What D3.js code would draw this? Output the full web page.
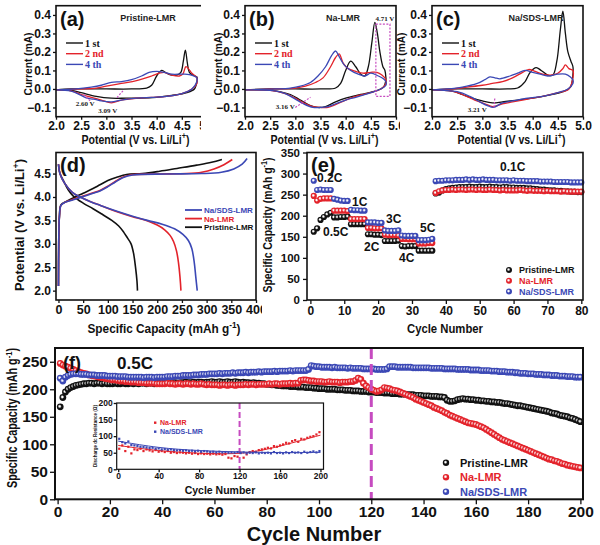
<!DOCTYPE html>
<html><head><meta charset="utf-8">
<script src="https://cdn.jsdelivr.net/npm/d3@7"></script>
<style>
body{margin:0;background:#fff}
svg{display:block}
text{font-family:"Liberation Sans",Arial,sans-serif;font-weight:bold}
.serif{font-family:"Liberation Serif","Times New Roman",serif}
</style></head><body>
<svg id="c" width="600" height="545"></svg>
<script>
// ---------------- DATA ----------------
const seriesNames = ["Pristine-LMR", "Na-LMR", "Na/SDS-LMR"];
const cycleNames = ["1 st", "2 nd", "4 th"];
const cvXTicks = [2.0, 2.5, 3.0, 3.5, 4.0, 4.5, 5.0];
const cvYTicks = [-0.1, 0.0, 0.1, 0.2, 0.3, 0.4];

// CV panel (a) Pristine-LMR: [V, mA] around loop
const cvA1 = [[2.0,-0.005],[2.3,0.0],[2.6,0.0],[3.0,0.0],[3.5,0.0],[3.8,0.005],[3.9,0.02],[4.0,0.07],[4.1,0.10],[4.2,0.085],[4.3,0.075],[4.4,0.075],[4.48,0.09],[4.53,0.15],[4.57,0.21],[4.61,0.14],[4.65,0.09],[4.72,0.075],[4.8,0.065],[4.8,0.04],[4.75,0.0],[4.6,-0.02],[4.3,-0.035],[4.0,-0.045],[3.7,-0.05],[3.4,-0.05],[3.1,-0.05],[2.8,-0.04],[2.5,-0.02],[2.3,-0.008],[2.0,-0.005]];
const cvA2 = [[2.0,-0.005],[2.5,0.0],[2.8,0.005],[3.0,0.015],[3.3,0.03],[3.6,0.045],[3.9,0.07],[4.05,0.085],[4.15,0.09],[4.3,0.075],[4.45,0.07],[4.52,0.08],[4.58,0.12],[4.63,0.11],[4.7,0.085],[4.8,0.06],[4.8,0.03],[4.7,0.0],[4.5,-0.025],[4.2,-0.04],[3.9,-0.045],[3.6,-0.05],[3.3,-0.06],[3.1,-0.075],[2.9,-0.06],[2.7,-0.045],[2.5,-0.03],[2.3,-0.01],[2.0,-0.005]];
const cvA4 = [[2.0,-0.005],[2.4,0.0],[2.7,0.01],[2.9,0.02],[3.1,0.035],[3.3,0.04],[3.5,0.05],[3.7,0.07],[3.85,0.09],[4.0,0.095],[4.15,0.09],[4.3,0.08],[4.5,0.08],[4.65,0.078],[4.8,0.06],[4.8,0.04],[4.7,0.0],[4.5,-0.025],[4.2,-0.04],[3.9,-0.045],[3.6,-0.05],[3.3,-0.06],[3.1,-0.07],[2.9,-0.065],[2.75,-0.055],[2.62,-0.05],[2.5,-0.035],[2.3,-0.012],[2.0,-0.005]];
// CV panel (b) Na-LMR
const cvB1 = [[2.0,-0.005],[2.5,0.0],[3.0,0.0],[3.5,0.0],[3.8,0.005],[3.9,0.03],[4.0,0.1],[4.1,0.15],[4.2,0.12],[4.3,0.08],[4.38,0.07],[4.45,0.12],[4.52,0.25],[4.58,0.36],[4.63,0.3],[4.68,0.2],[4.74,0.12],[4.78,0.1],[4.8,0.06],[4.8,0.05],[4.75,0.01],[4.6,-0.01],[4.3,-0.03],[4.0,-0.05],[3.8,-0.07],[3.6,-0.095],[3.45,-0.1],[3.3,-0.09],[3.1,-0.06],[2.9,-0.03],[2.6,-0.01],[2.3,-0.005],[2.0,-0.005]];
const cvB2 = [[2.0,-0.005],[2.6,0.0],[3.0,0.005],[3.2,0.015],[3.4,0.035],[3.55,0.06],[3.7,0.12],[3.8,0.17],[3.87,0.19],[3.95,0.14],[4.05,0.11],[4.2,0.095],[4.35,0.085],[4.5,0.09],[4.62,0.09],[4.72,0.075],[4.8,0.05],[4.8,0.03],[4.7,0.0],[4.5,-0.02],[4.2,-0.04],[4.0,-0.06],[3.8,-0.085],[3.65,-0.1],[3.5,-0.1],[3.35,-0.095],[3.16,-0.075],[3.0,-0.05],[2.8,-0.025],[2.5,-0.008],[2.0,-0.005]];
const cvB4 = [[2.0,-0.005],[2.6,0.0],[2.9,0.005],[3.1,0.015],[3.3,0.035],[3.45,0.07],[3.6,0.12],[3.72,0.18],[3.8,0.205],[3.88,0.17],[3.97,0.13],[4.1,0.1],[4.25,0.08],[4.38,0.07],[4.5,0.085],[4.65,0.07],[4.75,0.055],[4.8,0.04],[4.8,0.02],[4.7,0.0],[4.5,-0.02],[4.2,-0.045],[4.0,-0.06],[3.8,-0.08],[3.65,-0.095],[3.5,-0.1],[3.35,-0.1],[3.16,-0.08],[3.0,-0.055],[2.8,-0.025],[2.5,-0.008],[2.0,-0.005]];
// CV panel (c) Na/SDS-LMR
const cvC1 = [[2.0,-0.005],[2.5,0.0],[3.0,0.0],[3.5,0.0],[3.7,0.005],[3.85,0.04],[3.95,0.09],[4.07,0.115],[4.17,0.1],[4.3,0.075],[4.4,0.075],[4.48,0.15],[4.55,0.32],[4.6,0.42],[4.65,0.3],[4.7,0.2],[4.76,0.15],[4.8,0.12],[4.8,0.08],[4.75,0.01],[4.6,-0.015],[4.3,-0.035],[4.0,-0.05],[3.7,-0.06],[3.4,-0.07],[3.2,-0.075],[3.0,-0.065],[2.8,-0.05],[2.6,-0.03],[2.4,-0.012],[2.0,-0.005]];
const cvC2 = [[2.0,-0.005],[2.4,0.0],[2.7,0.01],[3.0,0.02],[3.2,0.03],[3.4,0.04],[3.6,0.06],[3.8,0.09],[3.92,0.105],[4.05,0.095],[4.2,0.08],[4.35,0.075],[4.5,0.085],[4.6,0.11],[4.65,0.13],[4.72,0.11],[4.8,0.1],[4.8,0.06],[4.72,0.0],[4.5,-0.02],[4.2,-0.04],[3.9,-0.055],[3.6,-0.07],[3.4,-0.08],[3.21,-0.095],[3.05,-0.08],[2.85,-0.06],[2.6,-0.03],[2.4,-0.012],[2.0,-0.005]];
const cvC4 = [[2.0,-0.005],[2.3,0.0],[2.6,0.01],[2.9,0.03],[3.05,0.05],[3.15,0.065],[3.25,0.06],[3.35,0.055],[3.55,0.07],[3.7,0.085],[3.85,0.1],[4.0,0.09],[4.15,0.08],[4.3,0.07],[4.5,0.08],[4.65,0.08],[4.75,0.065],[4.8,0.05],[4.8,0.03],[4.7,0.0],[4.5,-0.02],[4.2,-0.04],[3.9,-0.05],[3.6,-0.065],[3.4,-0.075],[3.22,-0.1],[3.1,-0.09],[2.95,-0.07],[2.75,-0.04],[2.5,-0.015],[2.0,-0.005]];
// CV annotations (data units)
const cvANotes = [{t:"2.60 V", v:2.58, i:-0.09}, {t:"3.09 V", v:3.03, i:-0.128}];
const cvAMarks = [[[2.55,-0.03],[2.68,-0.065]], [[3.33,-0.01],[3.2,-0.05]]];
const cvBNotes = [{t:"3.16 V", v:2.8, i:-0.11}, {t:"4.71 V", v:4.78, i:0.37}];
const cvBMarks = [[[3.0,-0.1],[3.3,-0.045]]];
const cvBBox = [[4.6,0.35],[4.88,-0.04]];
const cvCNotes = [{t:"3.21 V", v:2.9, i:-0.125}];
const cvCMarks = [[[3.23,-0.1],[3.25,-0.045]]];

// (d) charge-discharge: [capacity, V]
const dTicksX = [0,50,100,150,200,250,300,350,400];
const dTicksY = [2.0,2.5,3.0,3.5,4.0,4.5];
const dPristineCh = [[0,2.1],[0.5,3.0],[2,3.6],[5,3.83],[15,3.9],[30,3.98],[50,4.08],[70,4.18],[84,4.26],[100,4.35],[118,4.42],[138,4.48],[170,4.5],[205,4.55],[240,4.61],[280,4.68],[310,4.74],[331,4.8]];
const dPristineDis = [[0,4.7],[3,4.5],[10,4.35],[20,4.15],[30,4.02],[50,3.87],[70,3.75],[90,3.62],[108,3.5],[122,3.38],[132,3.25],[140,3.12],[147,3.0],[152,2.8],[156,2.5],[159,2.2],[160,2.0]];
const dNaCh = [[0,2.1],[0.5,3.0],[2,3.6],[5,3.82],[12,3.88],[30,3.95],[50,4.02],[70,4.09],[84,4.14],[100,4.23],[115,4.33],[130,4.42],[145,4.47],[200,4.49],[260,4.5],[290,4.53],[315,4.6],[335,4.69],[352,4.8]];
const dNaDis = [[0,4.7],[3,4.5],[12,4.3],[28,4.1],[44,4.0],[65,3.9],[85,3.82],[120,3.68],[150,3.58],[178,3.5],[200,3.4],[215,3.3],[226,3.18],[233,3.05],[239,2.85],[243,2.6],[246,2.3],[248,2.0]];
const dSDSCh = [[0,2.1],[0.5,3.0],[2,3.6],[5,3.82],[12,3.88],[30,3.94],[50,4.01],[70,4.08],[84,4.13],[100,4.22],[115,4.32],[130,4.41],[150,4.47],[220,4.49],[290,4.5],[330,4.53],[355,4.6],[372,4.7],[382,4.82]];
const dSDSDis = [[0,4.7],[3,4.5],[12,4.3],[28,4.1],[44,4.0],[65,3.9],[85,3.82],[120,3.69],[150,3.59],[180,3.5],[210,3.42],[235,3.32],[252,3.2],[263,3.07],[270,2.9],[275,2.6],[278,2.3],[281,2.0]];

// (e) rate capability, cycles 1..80
const eTicksX = [0,10,20,30,40,50,60,70,80];
const eTicksY = [0,50,100,150,200,250,300,350];
const ePristine = [162,170,190,197,203,207,196,196,197,197,198,180,180,180,180,180,156,156,155,155,154,140,140,140,140,141,128,127,128,128,128,117,117,117,117,117,
 253,255,260,263,265,266,267,268,268,268,269,268,268,269,268,268,269,268,268,267,268,268,267,267,266,266,266,265,265,264,263,262,262,261,260,260,259,259,258,258,257,257,256,256];
const eNa = [247,236,240,241,241,241,212,212,212,212,211,192,192,192,192,192,171,171,170,170,170,155,154,154,154,153,145,145,144,144,144,134,134,134,135,135,
 254,258,260,261,261,262,261,262,262,261,262,262,261,262,261,261,262,261,261,260,261,260,260,260,260,261,260,259,260,259,259,259,258,259,258,258,258,257,258,257,257,257,257,257];
const eSDS = [283,261,262,261,261,261,240,238,236,235,235,214,213,213,212,212,184,184,184,183,183,165,164,164,164,165,153,152,152,152,152,142,142,142,143,145,
 282,283,283,284,284,284,285,285,285,286,285,286,285,285,286,285,285,285,284,284,284,284,283,284,283,283,283,282,282,282,282,281,281,281,281,280,280,280,280,280,279,279,279,279];
const eRateLabels = ["0.2C","0.5C","1C","2C","3C","4C","5C","0.1C"];

// (f) long cycling at 0.5C, cycles 1..200
const fTicksX = [0,20,40,60,80,100,120,140,160,180,200];
const fTicksY = [0,50,100,150,200,250];
const fPristine = [168,185,195,200,203,205,207,208,209,210,210,211,211,210,211,211,210,211,210,210,
 210,211,210,210,211,210,210,211,210,211,210,211,211,210,211,211,210,211,211,212,
 211,212,211,212,212,211,212,212,213,212,212,213,212,213,213,212,213,213,214,213,
 213,214,213,213,214,213,213,214,213,212,213,212,212,211,212,211,211,210,210,209,
 209,208,208,207,207,206,206,206,205,205,205,204,204,204,203,203,203,202,202,201,
 201,201,200,200,200,200,199,199,199,198,198,198,197,197,197,196,196,196,195,195,
 195,194,194,194,193,193,193,192,192,192,191,191,191,190,190,190,189,189,189,188,
 188,188,187,187,187,186,186,185,180,178,178,179,181,182,183,182,182,181,181,180,
 180,179,179,178,178,177,177,176,176,175,174,174,173,172,171,170,170,169,168,167,
 166,165,164,163,162,161,160,159,157,156,155,153,152,151,150,148,147,145,143,141];
const fNa = [247,244,242,240,238,236,234,232,230,229,228,226,225,224,223,222,221,220,219,218,
 217,217,216,215,215,214,214,213,213,213,212,212,212,211,211,211,211,210,210,210,
 210,211,210,210,209,210,210,209,210,210,209,210,209,209,210,209,208,209,208,208,
 208,207,208,208,207,208,208,207,208,208,208,209,208,209,209,208,209,209,209,209,
 210,209,210,210,209,210,210,210,211,210,211,211,216,217,217,216,215,215,214,214,
 214,213,213,214,213,213,213,212,213,213,213,214,214,216,220,218,211,206,203,200,
 198,196,197,199,203,202,201,199,198,197,195,193,191,189,187,185,182,180,178,176,
 174,172,170,167,165,163,161,158,156,153,151,149,147,145,143,141,139,138,137,136,
 134,132,130,127,124,121,118,115,112,109,107,105,103,101,99,97,95,93,91,89,
 87,85,83,81,79,77,75,73,72,70,69,67,65,64,62,61,60,59,58,57];
const fSDS = [220,215,222,225,227,228,228,228,227,227,227,226,226,226,225,225,225,225,224,224,
 224,224,223,223,223,223,222,222,222,222,222,222,221,222,222,222,221,222,222,222,
 222,223,223,223,224,224,224,225,225,225,225,226,226,226,227,227,227,228,228,228,
 228,229,228,229,229,229,230,229,230,230,230,231,230,231,231,231,232,231,232,232,
 232,232,233,232,233,233,233,233,234,233,234,234,234,234,234,236,243,242,241,241,
 240,240,240,240,239,240,239,239,239,239,238,239,238,238,238,238,237,237,237,237,
 237,236,236,236,236,237,241,241,241,240,240,240,240,240,240,239,239,239,239,239,
 239,239,238,238,238,238,238,237,237,237,237,237,236,236,236,236,236,235,235,235,
 235,234,234,234,234,233,233,233,232,232,232,231,231,231,230,230,229,229,229,228,
 228,228,227,227,227,226,226,226,225,225,225,224,224,224,223,223,223,222,222,222];
const fMarkerCycle = 120;

// inset: discharge dc resistance
const insetTicksX = [0,40,80,120,160,200];
const insetTicksY = [0,50,100,150,200];
const insetCycles = [1,4,7,10,13,16,19,22,25,28,31,34,37,40,43,46,49,52,55,58,61,64,67,70,73,76,79,82,85,88,91,94,97,100,103,106,109,112,115,118,121,124,127,130,133,136,139,142,145,148,151,154,157,160,163,166,169,172,175,178,181,184,187,190,193,196,199];
const insetNa = [62,72,55,68,48,60,58,62,55,60,57,54,58,53,55,52,55,50,52,49,51,50,48,50,47,49,46,48,46,47,45,47,45,46,44,46,35,33,40,38,50,35,45,52,55,53,58,60,62,65,63,70,68,72,75,80,78,85,88,83,92,90,95,98,100,105,112];
const insetSDS = [92,82,78,84,73,72,70,68,67,66,64,65,62,63,60,61,59,60,58,57,58,56,57,55,56,54,56,53,55,54,52,53,51,53,51,52,50,51,50,52,49,51,48,50,49,51,48,50,49,50,48,52,49,50,48,51,49,52,50,51,49,53,50,52,54,51,55];
const insetNaFit = [[0,72],[40,55],[80,48],[110,46],[130,50],[150,62],[170,78],[200,103]];
const insetSDSFit = [[0,85],[40,64],[80,56],[120,52],[160,50],[200,51]];

// ---------------- DRAWING ----------------
const BLK = "#111111", RED = "#e3232b", BLU = "#3b48b5", MAG = "#c64bc0";
const colors = [BLK, RED, BLU];
const svg = d3.select("#c");
const defs = svg.append("defs");

function clip(id, x, y, w, h) {
  defs.append("clipPath").attr("id", id).append("rect").attr("x", x).attr("y", y).attr("width", w).attr("height", h);
}
clip("clipA", 0, 0, 201, 152);
clip("clipB", 201, 0, 199, 152);
clip("clipC", 395, 0, 205, 152);
clip("clipD", 0, 140, 262, 205);

colors.forEach((c, i) => {
  const g = defs.append("radialGradient").attr("id", "ball" + i).attr("cx", "42%").attr("cy", "42%").attr("r", "60%");
  g.append("stop").attr("offset", "0%").attr("stop-color", "#ffffff");
  g.append("stop").attr("offset", "14%").attr("stop-color", "#ffffff").attr("stop-opacity", 0.85);
  g.append("stop").attr("offset", "48%").attr("stop-color", c);
  g.append("stop").attr("offset", "100%").attr("stop-color", c);
});

function rich(sel, parts) {
  parts.forEach(p => {
    const ts = sel.append("tspan").text(p.t);
    if (p.sup) ts.attr("dy", -5).attr("font-size", "70%");
    if (p.down) ts.attr("dy", 5);
  });
  return sel;
}
function styleAxis(g, fs) {
  g.select(".domain").remove();
  g.attr("font-size", fs).attr("font-family", null);
  g.selectAll(".tick line").attr("stroke", BLK).attr("stroke-width", 1.3);
  g.selectAll(".tick text").attr("fill", BLK);
}
function frame(g, x0, x1, y0, y1, w) {
  g.append("rect").attr("x", x0).attr("y", y1).attr("width", x1 - x0).attr("height", y0 - y1)
    .attr("fill", "none").attr("stroke", BLK).attr("stroke-width", w);
}
function vtitle(g, x, y, parts, fs, len) {
  const t = g.append("text").attr("transform", `translate(${x},${y}) rotate(-90)`)
    .attr("text-anchor", "middle").attr("font-size", fs).attr("fill", BLK);
  if (len) t.attr("textLength", len).attr("lengthAdjust", "spacingAndGlyphs");
  return rich(t, parts);
}
function htitle(g, x, y, parts, fs, len) {
  const t = g.append("text").attr("x", x).attr("y", y).attr("text-anchor", "middle").attr("font-size", fs).attr("fill", BLK);
  if (len) t.attr("textLength", len).attr("lengthAdjust", "spacingAndGlyphs");
  return rich(t, parts);
}
const potParts = [{t:"Potential (V vs. Li/Li"},{t:"+",sup:true},{t:")",down:true}];
const capParts = [{t:"Specific Capacity (mAh g"},{t:"-1",sup:true},{t:")",down:true}];

// ----- CV panels -----
function cvPanel(o) {
  const g = svg.append("g").attr("clip-path", `url(#${o.clip})`);
  const x = d3.scaleLinear().domain([2.0, 5.0]).range(o.xr);
  const y = d3.scaleLinear().domain([-0.15, 0.45]).range([116.7, 5.7]);
  const ax = g.append("g").attr("transform", "translate(0,116.7)")
    .call(d3.axisBottom(x).tickValues(cvXTicks).tickFormat(d3.format(".1f")).tickSize(3).tickSizeOuter(0).tickPadding(2));
  styleAxis(ax, 12);
  const ay = g.append("g").attr("transform", `translate(${o.xr[0]},0)`)
    .call(d3.axisLeft(y).tickValues(cvYTicks).tickFormat(d3.format(".1f")).tickSize(3).tickSizeOuter(0).tickPadding(2));
  styleAxis(ay, 12);
  const line = d3.line().x(d => x(d[0])).y(d => y(d[1])).curve(d3.curveCatmullRom.alpha(0.5));
  o.curves.forEach((c, i) => {
    g.append("path").datum(c).attr("d", line).attr("fill", "none").attr("stroke", colors[i]).attr("stroke-width", 1.3);
  });
  o.marks.forEach(m => g.append("line").attr("x1", x(m[0][0])).attr("y1", y(m[0][1])).attr("x2", x(m[1][0])).attr("y2", y(m[1][1]))
    .attr("stroke", MAG).attr("stroke-width", 1.2).attr("stroke-dasharray", "2,1.5"));
  if (o.box) g.append("rect").attr("x", x(o.box[0][0])).attr("y", y(o.box[0][1])).attr("width", x(o.box[1][0]) - x(o.box[0][0]))
    .attr("height", y(o.box[1][1]) - y(o.box[0][1])).attr("fill", "none").attr("stroke", MAG).attr("stroke-width", 1.2).attr("stroke-dasharray", "2,1.5");
  o.notes.forEach(n => g.append("text").attr("class", "serif").attr("x", x(n.v)).attr("y", y(n.i)).attr("text-anchor", "middle")
    .attr("font-size", 7).attr("fill", "#222").text(n.t));
  frame(g, o.xr[0], o.xr[1], 116.7, 5.7, 1.6);
  g.append("text").attr("x", o.xr[0] + 4).attr("y", 26).attr("font-size", 20).attr("fill", BLK).text(o.label);
  g.append("text").attr("x", o.titleX).attr("y", 21).attr("text-anchor", "middle").attr("font-size", 9).attr("fill", "#222").text(o.title);
  cycleNames.forEach((nm, i) => {
    const ly = 43 + i * 10.7;
    g.append("line").attr("x1", o.xr[0] + 10).attr("x2", o.xr[0] + 27).attr("y1", ly).attr("y2", ly).attr("stroke", colors[i]).attr("stroke-width", 1.4);
    g.append("text").attr("class", "serif").attr("x", o.xr[0] + 29).attr("y", ly + 3.5).attr("font-size", 10).attr("fill", colors[i]).text(nm);
  });
  vtitle(g, o.ytX, 64, [{t:"Current (mA)"}], 11.5, 63);
  htitle(g, (o.xr[0] + o.xr[1]) / 2 + 4, 144, potParts, 12.5, 108);
}
cvPanel({clip:"clipA", xr:[56,207], label:"(a)", title:seriesNames[0], titleX:148, ytX:32, curves:[cvA1,cvA2,cvA4], marks:cvAMarks, notes:cvANotes});
cvPanel({clip:"clipB", xr:[245,396], label:"(b)", title:seriesNames[1], titleX:343, ytX:222, curves:[cvB1,cvB2,cvB4], marks:cvBMarks, notes:cvBNotes, box:cvBBox});
cvPanel({clip:"clipC", xr:[432,583], label:"(c)", title:seriesNames[2], titleX:536, ytX:405, curves:[cvC1,cvC2,cvC4], marks:cvCMarks, notes:cvCNotes});

// ----- (d) -----
(function () {
  const g = svg.append("g").attr("clip-path", "url(#clipD)");
  const x = d3.scaleLinear().domain([-5, 400]).range([56, 256]);
  const y = d3.scaleLinear().domain([1.8, 4.95]).range([300, 152.5]);
  const ax = g.append("g").attr("transform", "translate(0,300)")
    .call(d3.axisBottom(x).tickValues(dTicksX).tickFormat(d3.format("d")).tickSize(3).tickSizeOuter(0).tickPadding(2));
  styleAxis(ax, 12.5);
  const ay = g.append("g").attr("transform", "translate(56,0)")
    .call(d3.axisLeft(y).tickValues(dTicksY).tickFormat(d3.format(".1f")).tickSize(3).tickSizeOuter(0).tickPadding(2));
  styleAxis(ay, 12);
  const lineY = d3.line().x(d => x(d[0])).y(d => y(d[1])).curve(d3.curveCatmullRom.alpha(0.5));
  [[dPristineCh, dPristineDis], [dNaCh, dNaDis], [dSDSCh, dSDSDis]].forEach((p, i) => {
    g.append("path").datum(p[0]).attr("d", lineY).attr("fill", "none").attr("stroke", colors[i]).attr("stroke-width", 1.6);
    g.append("path").datum(p[1]).attr("d", lineY).attr("fill", "none").attr("stroke", colors[i]).attr("stroke-width", 1.6);
  });
  frame(g, 56, 256, 300, 152.5, 1.6);
  g.append("text").attr("x", 60).attr("y", 172).attr("font-size", 20).attr("fill", BLK).text("(d)");
  [2, 1, 0].forEach((si, k) => {
    const ly = 210 + k * 8.6;
    g.append("line").attr("x1", 185).attr("x2", 202).attr("y1", ly).attr("y2", ly).attr("stroke", colors[si]).attr("stroke-width", 1.8);
    g.append("text").attr("x", 204).attr("y", ly + 3).attr("font-size", 8).attr("fill", colors[si]).text(seriesNames[si]);
  });
  vtitle(g, 24, 225, potParts, 12.5, 132);
  htitle(g, 164, 333, capParts, 13, 153);
})();

// ----- (e) -----
(function () {
  const g = svg.append("g");
  const x = d3.scaleLinear().domain([-1, 80.5]).range([307, 583]);
  const y = d3.scaleLinear().domain([0, 350]).range([300, 152.5]);
  const ax = g.append("g").attr("transform", "translate(0,300)")
    .call(d3.axisBottom(x).tickValues(eTicksX).tickFormat(d3.format("d")).tickSize(4).tickSizeOuter(0).tickPadding(2));
  styleAxis(ax, 12);
  const ay = g.append("g").attr("transform", "translate(307,0)")
    .call(d3.axisLeft(y).tickValues(eTicksY).tickFormat(d3.format("d")).tickSize(4).tickSizeOuter(0).tickPadding(3));
  styleAxis(ay, 11.5);
  [ePristine, eNa, eSDS].forEach((arr, i) => {
    g.append("g").selectAll("circle").data(arr).join("circle")
      .attr("cx", (d, k) => x(k + 1)).attr("cy", d => y(d)).attr("r", 3.1).attr("fill", `url(#ball${i})`);
  });
  frame(g, 307, 583, 300, 152.5, 1.6);
  g.append("text").attr("x", 311).attr("y", 172).attr("font-size", 20).attr("fill", BLK).text("(e)");
  const lp = [[317,182],[323,236],[352,206],[364,251],[386,223],[399,262],[420,232],[500,171]];
  eRateLabels.forEach((t, i) => g.append("text").attr("x", lp[i][0]).attr("y", lp[i][1]).attr("font-size", 12).attr("fill", BLK).text(t));
  seriesNames.forEach((nm, i) => {
    const ly = 270 + i * 10.8;
    g.append("circle").attr("cx", 509).attr("cy", ly).attr("r", 3).attr("fill", `url(#ball${i})`);
    g.append("text").attr("x", 519).attr("y", ly + 3.3).attr("font-size", 9).attr("fill", colors[i]).text(nm);
  });
  vtitle(g, 272, 225, capParts, 12, 135);
  htitle(g, 445, 333, [{t:"Cycle Number"}], 12.5, 76);
})();

// ----- (f) -----
(function () {
  const g = svg.append("g");
  const x = d3.scaleLinear().domain([-1, 201]).range([55, 583]);
  const y = d3.scaleLinear().domain([0, 275]).range([499.3, 348]);
  const ax = g.append("g").attr("transform", "translate(0,499.3)")
    .call(d3.axisBottom(x).tickValues(fTicksX).tickFormat(d3.format("d")).tickSize(5).tickSizeOuter(0).tickPadding(2));
  styleAxis(ax, 15.5);
  const ay = g.append("g").attr("transform", "translate(55,0)")
    .call(d3.axisLeft(y).tickValues(fTicksY).tickFormat(d3.format("d")).tickSize(5).tickSizeOuter(0).tickPadding(2));
  styleAxis(ay, 15.5);
  [fPristine, fNa, fSDS].forEach((arr, i) => {
    g.append("g").selectAll("circle").data(arr).join("circle")
      .attr("cx", (d, k) => x(k + 1)).attr("cy", d => y(d)).attr("r", 3.4).attr("fill", `url(#ball${i})`);
  });
  g.append("line").attr("x1", x(fMarkerCycle)).attr("x2", x(fMarkerCycle)).attr("y1", 348).attr("y2", 499.3)
    .attr("stroke", MAG).attr("stroke-width", 3).attr("stroke-dasharray", "11,5");
  frame(g, 55, 583, 499.3, 348, 2);
  g.append("text").attr("x", 63).attr("y", 369).attr("font-size", 18).attr("fill", BLK).text("(f)");
  g.append("text").attr("x", 117).attr("y", 369).attr("font-size", 17).attr("fill", BLK).text("0.5C");
  seriesNames.forEach((nm, i) => {
    const ly = 462.7 + i * 14.5;
    g.append("circle").attr("cx", 446).attr("cy", ly).attr("r", 3.2).attr("fill", `url(#ball${i})`);
    g.append("text").attr("x", 460).attr("y", ly + 4).attr("font-size", 11).attr("fill", colors[i]).text(nm);
  });
  vtitle(g, 17, 418, capParts, 14, 140);
  htitle(g, 314, 541, [{t:"Cycle Number"}], 20);

  // inset
  const xi = d3.scaleLinear().domain([-1.5, 203]).range([116.7, 323.5]);
  const yi = d3.scaleLinear().domain([0, 200]).range([469.3, 403]);
  g.append("rect").attr("x", 116.7).attr("y", 403).attr("width", 206.8).attr("height", 66.3).attr("fill", "#fff");
  const axi = g.append("g").attr("transform", "translate(0,469.3)")
    .call(d3.axisBottom(xi).tickValues(insetTicksX).tickFormat(d3.format("d")).tickSize(3).tickSizeOuter(0).tickPadding(1));
  styleAxis(axi, 8.5);
  const ayi = g.append("g").attr("transform", "translate(116.7,0)")
    .call(d3.axisLeft(yi).tickValues(insetTicksY).tickFormat(d3.format("d")).tickSize(3).tickSizeOuter(0).tickPadding(1));
  styleAxis(ayi, 8.5);
  g.append("line").attr("x1", xi(fMarkerCycle)).attr("x2", xi(fMarkerCycle)).attr("y1", 403).attr("y2", 469.3)
    .attr("stroke", MAG).attr("stroke-width", 2).attr("stroke-dasharray", "6,3");
  const fitLine = d3.line().x(d => xi(d[0])).y(d => yi(d[1])).curve(d3.curveBasis);
  [[insetNa, RED, insetNaFit], [insetSDS, BLU, insetSDSFit]].forEach(s => {
    g.append("g").selectAll("rect").data(s[0]).join("rect")
      .attr("x", (d, k) => xi(insetCycles[k]) - 1.1).attr("y", d => yi(d) - 1.1).attr("width", 2.2).attr("height", 2.2).attr("fill", s[1]);
    g.append("path").datum(s[2]).attr("d", fitLine).attr("fill", "none").attr("stroke", s[1]).attr("stroke-width", 1);
  });
  frame(g, 116.7, 323.5, 469.3, 403, 1.2);
  [[1, RED], [2, BLU]].forEach((s, k) => {
    const ly = 422.7 + k * 9;
    g.append("rect").attr("x", 154).attr("y", ly - 1.2).attr("width", 2.4).attr("height", 2.4).attr("fill", s[1]);
    g.append("text").attr("x", 160).attr("y", ly + 2.4).attr("font-size", 7).attr("fill", s[1]).text(seriesNames[s[0]]);
  });
  vtitle(g, 97, 436, [{t:"Discharge dc Resistance (\u03A9)"}], 6, 62);
  htitle(g, 220, 494, [{t:"Cycle Number"}], 10.5);
})();
</script>
</body></html>
